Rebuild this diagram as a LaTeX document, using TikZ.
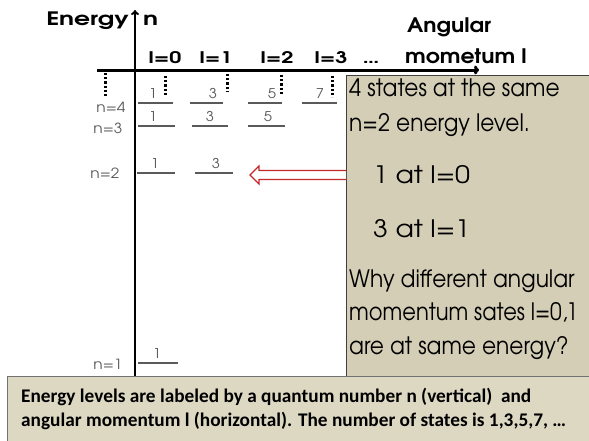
\documentclass[tikz,border=0pt]{standalone}
\usepackage{fontspec}
\setmainfont{TeX Gyre Adventor}
\newfontfamily\carl{Carlito}
\newfontfamily\gothA[FakeStretch=1.35]{TeX Gyre Adventor}
\newfontfamily\gothB[FakeStretch=1.1]{TeX Gyre Adventor}
\newfontfamily\gothC[FakeStretch=0.905]{TeX Gyre Adventor}
\newfontfamily\gothE[FakeStretch=0.875]{TeX Gyre Adventor}
\newfontfamily\gothD[FakeStretch=1.12]{TeX Gyre Adventor}
\usetikzlibrary{arrows.meta,calc}
\definecolor{boxfill}{RGB}{212,206,182}
\definecolor{botfill}{RGB}{220,216,194}
\definecolor{lvlgray}{RGB}{90,90,90}
\definecolor{arrred}{RGB}{196,40,40}
\begin{document}
\begin{tikzpicture}[x=1pt,y=-1pt,
  lvl/.style={draw=lvlgray, line width=1.1pt},
  num/.style={font=\gothB\fontsize{13.5}{13.5}\selectfont, text=lvlgray, inner sep=0pt, anchor=base},
  nlab/.style={font=\gothB\fontsize{14}{14}\selectfont, text=lvlgray, inner sep=0pt, anchor=base},
  llab/.style={font=\gothA\bfseries\fontsize{16}{16}\selectfont, inner sep=0pt, anchor=base},
  boxtxt/.style={font=\gothC\fontsize{24}{24}\selectfont, anchor=base west, inner sep=0pt},
  boxtxtn/.style={font=\gothE\fontsize{24}{24}\selectfont, anchor=base west, inner sep=0pt},
  boxtxtw/.style={font=\gothD\fontsize{24}{24}\selectfont, anchor=base west, inner sep=0pt},
  bottxt/.style={font=\carl\bfseries\fontsize{19.3}{19.3}\selectfont, anchor=base west, inner sep=0pt},
  dotcol/.style={line width=3pt, dash pattern=on 2.2pt off 2pt},
]
\useasboundingbox (0,0) rectangle (589,440);
% boxes
\node[draw=black!75, line width=1pt, fill=boxfill, anchor=north west, inner sep=0pt,
      minimum width=245pt, minimum height=302pt] (rbox) at (346,75) {};
\node[draw=black!55, line width=1.3pt, fill=botfill, anchor=north west, inner sep=0pt,
      minimum width=585pt, minimum height=66pt] (bbox) at (7,376) {};
% axes
\coordinate (vbot) at (135,376);
\coordinate (vtop) at (135,10);
\draw[line width=2pt, -{To[length=5pt,width=8pt]}] (vbot) -- (vtop);
\coordinate (hleft) at (97,70);
\coordinate (hright) at (479,70);
\draw[line width=3pt, -{To[length=5pt,width=9pt]}] (hleft) -- (hright);
% axis labels
\node[font=\gothA\bfseries\fontsize{18.5}{18.5}\selectfont, anchor=base east, inner sep=0pt] (energy) at (129,25) {Energy};
\node[font=\gothA\bfseries\fontsize{18.5}{18.5}\selectfont, anchor=base west, inner sep=0pt] (nlabel) at (143,25) {n};
\node[font=\gothB\bfseries\fontsize{20}{20}\selectfont, anchor=base west, inner sep=0pt] (ang1) at (407,32) {Angular};
\node[font=\gothB\bfseries\fontsize{20}{20}\selectfont, anchor=base west, inner sep=0pt] (ang2) at (405,63) {mometum l};
\node[llab] (l0) at (165,63) {l=0};
\node[llab] (l1) at (216,63) {l=1};
\node[llab] (l2) at (277,63) {l=2};
\node[llab] (l3) at (331,63) {l=3};
\node[llab] (ldots) at (371,63) {\dots};
% dotted columns
\foreach \x/\a/\b [count=\i] in {105/73/97, 165/76/96, 227/74/92, 281/75/95, 332/76/97}{
  \coordinate (dt\i) at (\x,\a);
  \coordinate (db\i) at (\x,\b);
  \draw[dotcol] (dt\i) -- (db\i);
}
% level labels
\node[nlab] (n4) at (111,112) {n=4};
\node[nlab] (n3) at (108,133) {n=3};
\node[nlab] (n2) at (105,178) {n=2};
\node[nlab] (n1) at (108,369) {n=1};
% levels
\foreach \y/\a/\b/\t/\nx [count=\i] in {
  103/138/173/1/153, 103/190/223/3/213, 103/248/282/5/272, 103/302/337/7/320,
  126/138/175/1/153, 126/192/228/3/210, 126/248/285/5/268,
  173/137/175/1/155, 173/195/233/3/216,
  363/138/178/1/157}{
  \coordinate (la\i) at (\a,\y);
  \coordinate (lb\i) at (\b,\y);
  \draw[lvl] (la\i) -- (lb\i);
  \node[num] (lt\i) at (\nx,\y-5) {\t};
}
% red hollow arrow
\coordinate (atip) at (250,175);
\draw[arrred, line width=1.2pt, fill=white]
  ($(rbox.west|-atip)+(0,-4.5)$) -- (259,170.5) -- (259,166) -- (atip) -- (259,184) -- (259,179.5) -- ($(rbox.west|-atip)+(0,4.5)$);
% box text
\node[boxtxt] (t1) at (349,96) {4 states at the same};
\node[boxtxt] (t2) at (349,131) {n=2 energy level.};
\node[boxtxtw] (t3) at (373,183) {1 at l=0};
\node[boxtxtw] (t4) at (373,237) {3 at l=1};
\node[boxtxt] (t5) at (349,287) {Why different angular};
\node[boxtxtn] (t6) at (349,320) {momentum sates l=0,1};
\node[boxtxt] (t7) at (349,354) {are at same energy?};
% bottom text
\node[bottxt] (b1) at (21,402) {Energy levels are labeled by a quantum number n (vertical)\ \ and};
\node[bottxt] (b2) at (21,426) {angular momentum l (horizontal). The number of states is 1,3,5,7, \dots};
\end{tikzpicture}
\end{document}
